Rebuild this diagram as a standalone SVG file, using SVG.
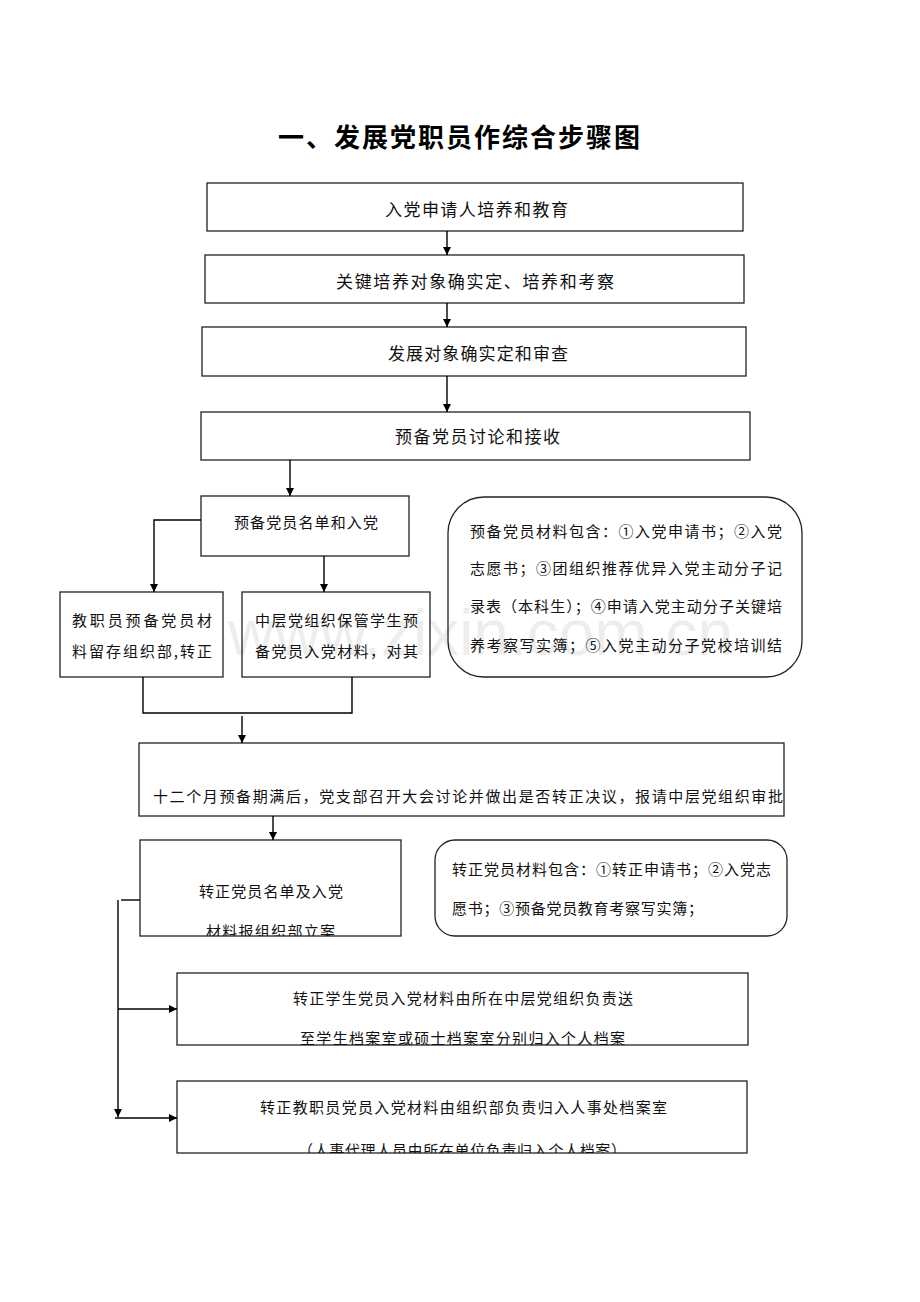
<svg xmlns="http://www.w3.org/2000/svg" width="920" height="1302" viewBox="0 0 920 1302">
<style>
.box{fill:none;stroke:#222;stroke-width:1.3}
.ln{fill:none;stroke:#000;stroke-width:1.4}
.t{font-family:"Noto Sans CJK SC","Liberation Serif",serif;font-size:16px;fill:#111}
.tl{font-family:"Noto Sans CJK SC","Liberation Serif",serif;font-size:17px;fill:#111}
.s{font-family:"Noto Sans CJK SC","Liberation Serif",serif;font-size:15px;fill:#111}
.title{font-family:"Noto Sans CJK SC","Liberation Sans",sans-serif;font-size:26px;font-weight:bold;fill:#000}
</style>
<defs>
<marker id="ah" viewBox="0 0 10 10" refX="10" refY="5" markerWidth="8" markerHeight="8" markerUnits="userSpaceOnUse" orient="auto">
<path d="M0,0 L10,5 L0,10 z" fill="#000"/>
</marker>
<clipPath id="c9"><rect x="140" y="840" width="261" height="96"/></clipPath>
<clipPath id="c10"><rect x="177" y="973" width="571" height="72"/></clipPath>
<clipPath id="c11"><rect x="177" y="1081" width="570" height="72"/></clipPath>
</defs>
<rect width="920" height="1302" fill="#fff"/>
<text class="title" x="278" y="147" textLength="362" lengthAdjust="spacing">一、发展党职员作综合步骤图</text>

<g id="n1"><rect class="box" x="207" y="183" width="536" height="48"/><text class="tl" x="385" y="216" textLength="183" lengthAdjust="spacing">入党申请人培养和教育</text></g>
<g id="n2"><rect class="box" x="205" y="255" width="539" height="48"/><text class="tl" x="336" y="288" textLength="278" lengthAdjust="spacing">关键培养对象确实定、培养和考察</text></g>
<g id="n3"><rect class="box" x="202" y="327" width="544" height="49"/><text class="tl" x="388" y="360" textLength="180" lengthAdjust="spacing">发展对象确实定和审查</text></g>
<g id="n4"><rect class="box" x="201" y="412" width="549" height="48"/><text class="tl" x="395" y="443" textLength="165" lengthAdjust="spacing">预备党员讨论和接收</text></g>
<g id="n5"><rect class="box" x="201" y="496" width="208" height="60"/><text class="s" x="234" y="528" textLength="144" lengthAdjust="spacing">预备党员名单和入党</text></g>
<g id="n6"><rect class="box" x="60" y="592" width="163" height="85"/><text class="s" x="72" y="626" textLength="140" lengthAdjust="spacing">教职员预备党员材</text><text class="s" x="72" y="657" textLength="140" lengthAdjust="spacing">料留存组织部,转正</text></g>
<g id="n7"><rect class="box" x="242" y="592" width="188" height="85"/><text class="s" x="255" y="626" textLength="163" lengthAdjust="spacing">中层党组织保管学生预</text><text class="s" x="255" y="657" textLength="163" lengthAdjust="spacing">备党员入党材料，对其</text></g>
<g id="note1"><rect class="box" x="448" y="497" width="354" height="180" rx="36" ry="36"/>
<text class="s" x="470" y="537" textLength="312" lengthAdjust="spacing">预备党员材料包含：①入党申请书；②入党</text>
<text class="s" x="470" y="574" textLength="312" lengthAdjust="spacing">志愿书；③团组织推荐优异入党主动分子记</text>
<text class="s" x="470" y="612" textLength="312" lengthAdjust="spacing">录表（本科生）；④申请入党主动分子关键培</text>
<text class="s" x="470" y="651" textLength="312" lengthAdjust="spacing">养考察写实簿；⑤入党主动分子党校培训结</text></g>
<g id="n8"><rect class="box" x="139" y="743" width="645" height="73"/><text class="s" x="153" y="802" textLength="630" lengthAdjust="spacing">十二个月预备期满后，党支部召开大会讨论并做出是否转正决议，报请中层党组织审批</text></g>
<g id="n9"><rect class="box" x="140" y="840" width="261" height="96"/><text class="s" x="199" y="897" textLength="144" lengthAdjust="spacing">转正党员名单及入党</text><text class="s" clip-path="url(#c9)" x="206" y="937" textLength="129" lengthAdjust="spacing">材料报组织部立案</text></g>
<g id="note2"><rect class="box" x="435" y="840" width="352" height="96" rx="20" ry="20"/>
<text class="s" x="452" y="875" textLength="319" lengthAdjust="spacing">转正党员材料包含：①转正申请书；②入党志</text>
<text class="s" x="452" y="914" textLength="251" lengthAdjust="spacing">愿书；③预备党员教育考察写实簿；</text></g>
<g id="n10"><rect class="box" x="177" y="973" width="571" height="72"/><text class="s" x="293" y="1004" textLength="340" lengthAdjust="spacing">转正学生党员入党材料由所在中层党组织负责送</text><text class="s" clip-path="url(#c10)" x="300" y="1044" textLength="325" lengthAdjust="spacing">至学生档案室或硕士档案室分别归入个人档案</text></g>
<g id="n11"><rect class="box" x="177" y="1081" width="570" height="72"/><text class="s" x="260" y="1113" textLength="407" lengthAdjust="spacing">转正教职员党员入党材料由组织部负责归入人事处档案室</text><text class="s" clip-path="url(#c11)" x="298" y="1156" textLength="328" lengthAdjust="spacing">（人事代理人员由所在单位负责归入个人档案）</text></g>

<g id="connectors">
<line class="ln" x1="447" y1="231" x2="447" y2="255" marker-end="url(#ah)"/>
<line class="ln" x1="447" y1="303" x2="447" y2="327" marker-end="url(#ah)"/>
<line class="ln" x1="447" y1="376" x2="447" y2="412" marker-end="url(#ah)"/>
<line class="ln" x1="290" y1="460" x2="290" y2="496" marker-end="url(#ah)"/>
<polyline class="ln" points="201,520 154,520 154,592" marker-end="url(#ah)"/>
<line class="ln" x1="324" y1="556" x2="324" y2="592" marker-end="url(#ah)"/>
<polyline class="ln" points="143,677 143,713 352,713 352,677"/>
<line class="ln" x1="242" y1="716" x2="242" y2="743" marker-end="url(#ah)"/>
<line class="ln" x1="273" y1="816" x2="273" y2="840" marker-end="url(#ah)"/>
<line class="ln" x1="140" y1="900" x2="121" y2="900"/>
<line class="ln" x1="118" y1="900" x2="118" y2="1117" marker-end="url(#ah)"/>
<line class="ln" x1="118" y1="1009" x2="177" y2="1009" marker-end="url(#ah)"/>
<line class="ln" x1="115" y1="1118" x2="177" y2="1118" marker-end="url(#ah)"/>
</g>
<text x="228" y="655" font-family="Liberation Sans, sans-serif" font-size="64" fill="#000" fill-opacity="0.07">www.zixin.com.cn</text>
</svg>
